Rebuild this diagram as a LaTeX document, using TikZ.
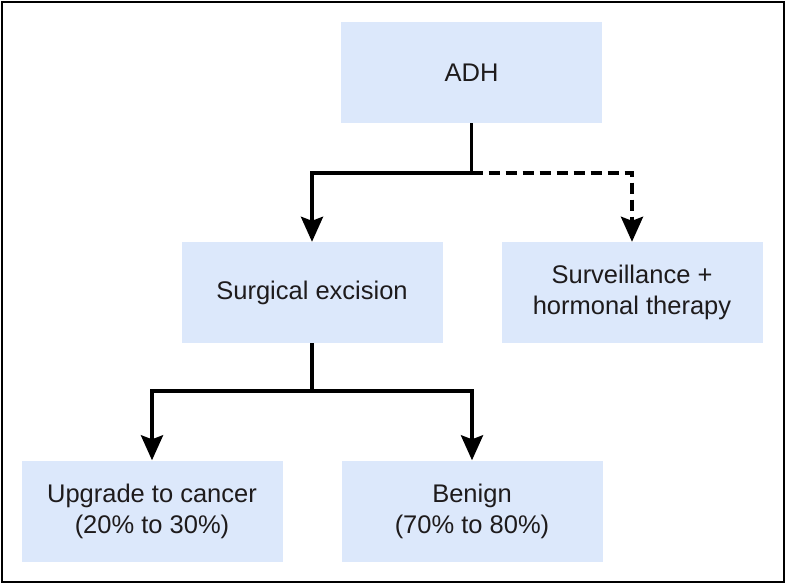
\documentclass[tikz,border=0pt]{standalone}
\usepackage{fontspec}
\setmainfont{Liberation Sans}
\usetikzlibrary{arrows.meta}
\definecolor{boxblue}{RGB}{220,232,251}
\definecolor{inkgray}{RGB}{30,27,28}
\begin{document}
\begin{tikzpicture}[x=1pt,y=-1pt,
        box/.style={fill=boxblue,minimum width=261pt,minimum height=101pt,inner sep=0pt,
            align=center,text=inkgray,font=\fontsize{25.5}{31}\selectfont},
        conn/.style={line width=3.8pt,-{Stealth[length=25pt,width=22pt,inset=4pt]}},
        maybe/.style={dash pattern=on 11pt off 6pt}]
        % 边框
        \useasboundingbox (0,0) rectangle (787,584);
        \draw[line width=2pt] (2,2) rectangle (784,582);

        % 方框
        \node[box] (adh) at (471.5,72.5) {ADH};
        \node[box] (surg) at (312,292.5) {Surgical excision};
        \node[box] (surv) at (632,292.5) {Surveillance +\\hormonal therapy};
        \node[box] (upg) at (152,511) {Upgrade to cancer\\(20\% to 30\%)};
        \node[box] (ben) at (472,511) {Benign\\(70\% to 80\%)};

        % 分支点
        \coordinate (split1) at (adh.south |- 0,173);
        \coordinate (split2) at (surg.south |- 0,391);

        % 连线
        \draw[line width=3.8pt] (adh.south) -- (split1);
        \draw[conn] (split1) -| (surg.north);
        \draw[conn,maybe] (split1) -| (surv.north);
        \draw[line width=3.8pt] (surg.south) -- (split2);
        \draw[conn] (split2) -| (upg.north);
        \draw[conn] (split2) -| (ben.north);
    \end{tikzpicture}
\end{document}
